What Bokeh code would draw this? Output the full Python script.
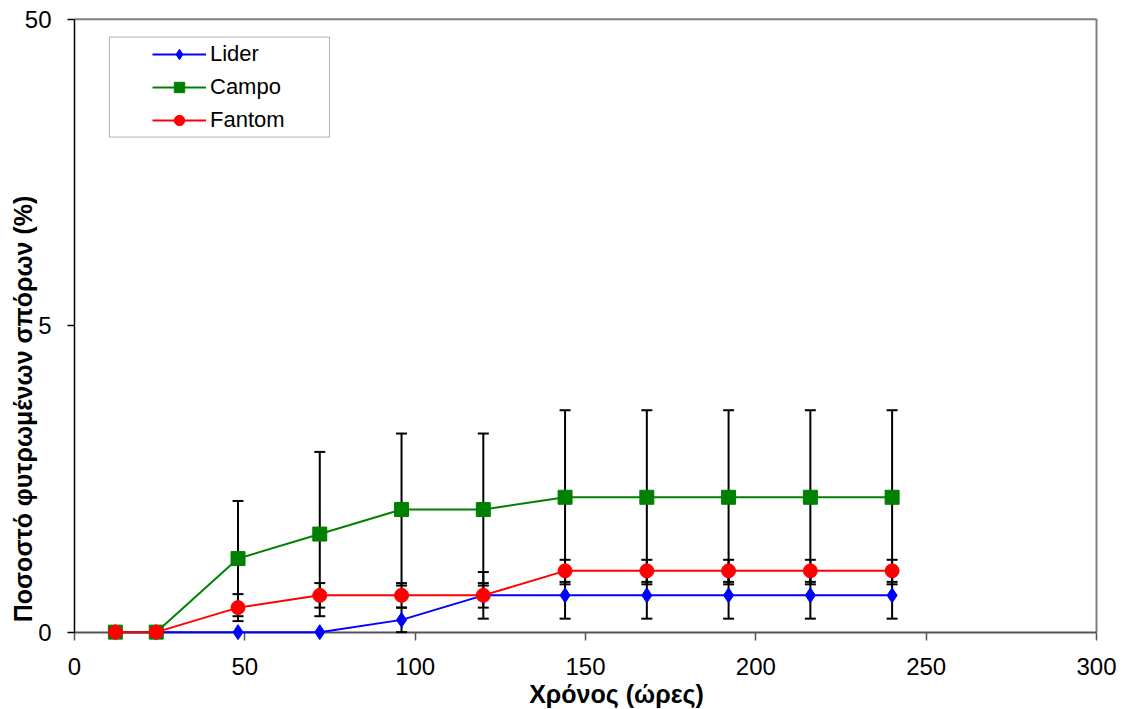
import math

from bokeh.plotting import figure
from bokeh.models import (Label, Legend, LegendItem, BoxAnnotation,
                          FixedTicker, Range1d)
from bokeh.embed import file_html
from bokeh.resources import INLINE

# Germination over time for three cultivars (mean and error per reading)
hours = [12, 24, 48, 72, 96, 120, 144, 168, 192, 216, 240]

lider = [0, 0, 0, 0, 1, 3, 3, 3, 3, 3, 3]
lider_err = [0, 0, 0, 0, 1.0, 1.9, 1.9, 1.9, 1.9, 1.9, 1.9]

campo = [0, 0, 6, 8, 10, 10, 11, 11, 11, 11, 11]
campo_err = [0, 0, 4.7, 6.7, 6.2, 6.2, 7.1, 7.1, 7.1, 7.1, 7.1]

fantom = [0, 0, 2, 3, 3, 3, 5, 5, 5, 5, 5]
fantom_err = [0, 0, 1.1, 1.0, 1.0, 1.0, 0.9, 0.9, 0.9, 0.9, 0.9]

series_names = ["Lider", "Campo", "Fantom"]
x_ticks = [0, 50, 100, 150, 200, 250, 300]
y_ticks = [0, 25, 50]
x_title = "Χρόνος (ώρες)"
y_title = "Ποσοστό φυτρωμένων σπόρων (%)"

FONT = "Liberation Sans"
X_MIN, X_MAX = x_ticks[0], x_ticks[-1]
Y_MIN, Y_MAX = y_ticks[0], y_ticks[-1]

# The frame fills the whole canvas; axes are pinned at the origin so that
# markers sitting on zero are drawn whole.
p = figure(width=1123, height=709,
           x_range=Range1d(-21.72, 307.92), y_range=Range1d(-6.31, 51.52),
           output_backend="svg", toolbar_location=None,
           min_border_left=0, min_border_right=0,
           min_border_top=0, min_border_bottom=0)
p.outline_line_color = None
p.xgrid.visible = False
p.ygrid.visible = False
p.background_fill_color = "white"
p.border_fill_color = "white"

xa = p.xaxis[0]
xa.ticker = FixedTicker(ticks=x_ticks)
xa.fixed_location = Y_MIN
xa.bounds = (X_MIN, X_MAX)
xa.axis_line_color = "#555555"
xa.axis_line_width = 2
xa.major_tick_in = 0
xa.major_tick_out = 8
xa.major_tick_line_color = "#555555"
xa.major_tick_line_width = 1.5
xa.minor_tick_in = 0
xa.minor_tick_out = 0
xa.major_label_text_font = FONT
xa.major_label_text_font_size = "24px"
xa.major_label_text_color = "black"
xa.major_label_standoff = 18

ya = p.yaxis[0]
ya.ticker = FixedTicker(ticks=y_ticks)
ya.fixed_location = X_MIN
ya.bounds = (Y_MIN, Y_MAX)
ya.axis_line_color = "black"
ya.axis_line_width = 1.5
ya.major_tick_in = 0
ya.major_tick_out = 7
ya.major_tick_line_color = "black"
ya.major_tick_line_width = 1.5
ya.minor_tick_in = 0
ya.minor_tick_out = 0
ya.major_label_text_font = FONT
ya.major_label_text_font_size = "24px"
ya.major_label_text_color = "black"
ya.major_label_standoff = 16

# plot-area border on top and right
p.line([X_MIN, X_MAX, X_MAX], [Y_MAX, Y_MAX, Y_MIN],
       line_color="#808080", line_width=2)


def add_error_bars(xs, ys, errs):
    keep = [(x, y, e) for x, y, e in zip(xs, ys, errs) if e > 0]
    ex = [k[0] for k in keep]
    lo = [k[1] - k[2] for k in keep]
    hi = [k[1] + k[2] for k in keep]
    stems = p.segment(ex, lo, ex, hi, line_color="black", line_width=2)
    caps = p.scatter(ex + ex, lo + hi, marker="dash", size=11,
                     line_color="black", line_width=2)
    stems.level = "annotation"
    caps.level = "annotation"


add_error_bars(hours, lider, lider_err)
add_error_bars(hours, campo, campo_err)
add_error_bars(hours, fantom, fantom_err)

styles = [
    (lider, "#0000FF", "diamond", 15),
    (campo, "#008000", "square", 14),
    (fantom, "#FF0000", "circle", 14),
]

items = []
for name, (ys, color, marker, size) in zip(series_names, styles):
    ln = p.line(hours, ys, line_color=color, line_width=2)
    mk = p.scatter(hours, ys, marker=marker, size=size,
                   fill_color=color, line_color=color)
    ln.level = "overlay"
    mk.level = "overlay"
    items.append(LegendItem(label=name, renderers=[ln, mk]))

# legend frame
p.add_layout(BoxAnnotation(left=10.27, right=74.85, top=48.54, bottom=40.38,
                           fill_color="white", fill_alpha=1.0,
                           line_color="black", line_width=1))

legend = Legend(items=items, location=(152, 576), padding=0, margin=0,
                spacing=7, glyph_width=54, glyph_height=26, label_height=26,
                label_standoff=4, label_text_font=FONT,
                label_text_font_size="22px", label_text_color="black",
                border_line_color=None, background_fill_alpha=0)
p.add_layout(legend)

p.add_layout(Label(x=159.1, y=-5.05, text=x_title, text_align="center",
                   text_baseline="alphabetic", text_font=FONT,
                   text_font_style="bold", text_font_size="25px",
                   text_color="black"))

p.add_layout(Label(x=-15.0, y=18.2, text=y_title, angle=math.pi / 2,
                   text_align="center", text_baseline="alphabetic",
                   text_font=FONT, text_font_style="bold",
                   text_font_size="25px", text_color="black",
                   background_fill_color="white"))

open("out.html", "w").write(file_html(p, INLINE))
